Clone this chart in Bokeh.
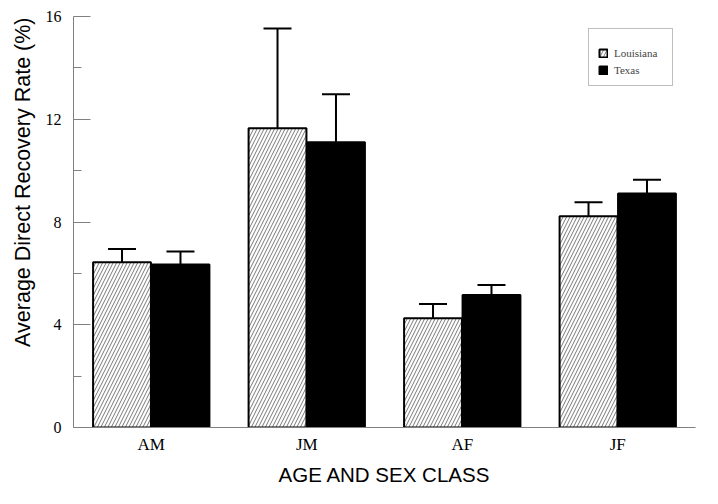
from bokeh.plotting import figure
from bokeh.models import (ColumnDataSource, FactorRange, Range1d, Whisker, TeeHead,
                          Legend, LegendItem, FixedTicker, Title)
from bokeh.transform import dodge
from bokeh.embed import file_html
from bokeh.resources import INLINE

categories = ["AM", "JM", "AF", "JF"]
louisiana = [6.43, 11.65, 4.25, 8.22]
louisiana_err = [0.52, 3.88, 0.56, 0.55]
texas = [6.35, 11.1, 5.16, 9.11]
texas_err = [0.50, 1.87, 0.39, 0.53]
y_ticks = [0, 4, 8, 12, 16]
y_minor = [2, 6, 10, 14]
y_title = "Average Direct Recovery Rate (%)"
x_title = "AGE AND SEX CLASS"

src = ColumnDataSource(dict(
    cat=categories,
    la=louisiana, la_up=[v + e for v, e in zip(louisiana, louisiana_err)],
    tx=texas, tx_up=[v + e for v, e in zip(texas, texas_err)],
))

W, H = 702, 488
BL, BR, BT, BB = 71, 7, 16, 60
p = figure(width=W, height=H, x_range=FactorRange(*categories), y_range=Range1d(0, 16),
           output_backend="svg", toolbar_location=None,
           min_border_left=BL, min_border_right=BR, min_border_top=BT, min_border_bottom=BB)
p.outline_line_color = None
p.grid.grid_line_color = None

off = 0.188
bw = 0.372
r_la = p.vbar(x=dodge("cat", -off, range=p.x_range), top="la", width=bw, source=src,
              fill_color="white", line_color="black", line_width=2,
              hatch_pattern="/", hatch_color="#555555", hatch_scale=7, hatch_weight=0.8)
r_tx = p.vbar(x=dodge("cat", off, range=p.x_range), top="tx", width=bw, source=src,
              fill_color="black", line_color="black", line_width=2)

for col, up, o in (("la", "la_up", -off), ("tx", "tx_up", off)):
    w = Whisker(base=dodge("cat", o, range=p.x_range), lower=col, upper=up, source=src,
                line_color="black", line_width=2, lower_head=None,
                upper_head=TeeHead(size=28, line_width=2, line_color="black"))
    p.add_layout(w)

ya = p.yaxis[0]
ya.ticker = FixedTicker(ticks=y_ticks, minor_ticks=y_minor)
ya.axis_line_color = "#808080"
ya.major_tick_line_color = "#808080"
ya.minor_tick_line_color = "#808080"
ya.major_tick_in = 17
ya.major_tick_out = 0
ya.minor_tick_in = 8
ya.minor_tick_out = 0
ya.major_label_text_font = "Liberation Serif"
ya.major_label_text_font_size = "16px"
ya.major_label_text_color = "black"
ya.major_label_standoff = 12

p.add_layout(Title(text=y_title, align="right", offset=1, standoff=16,
                   text_font="Liberation Sans", text_font_size="21.5px",
                   text_font_style="normal", text_color="black"), "left")

xa = p.xaxis[0]
xa.axis_line_color = "#808080"
xa.major_tick_line_color = None
xa.minor_tick_line_color = None
xa.major_label_text_font = "Liberation Serif"
xa.major_label_text_font_size = "17px"
xa.major_label_text_color = "black"
xa.major_label_standoff = 1
xa.axis_label = x_title
xa.axis_label_text_font = "Liberation Sans"
xa.axis_label_text_font_size = "20.5px"
xa.axis_label_text_font_style = "normal"
xa.axis_label_text_color = "black"
xa.axis_label_standoff = 6

legend = Legend(items=[LegendItem(label="Louisiana", renderers=[r_la]),
                       LegendItem(label="Texas", renderers=[r_tx])],
                location=(515, 341), title=" ", title_text_font_size="7px", title_standoff=2,
                border_line_color="#808080", border_line_width=1,
                label_text_font="Liberation Serif", label_text_font_size="11px",
                glyph_width=10, glyph_height=10, label_height=10, label_width=49, spacing=5,
                label_standoff=6, padding=9, margin=0, background_fill_alpha=1)
p.add_layout(legend)

open("out.html", "w").write(file_html(p, INLINE))
